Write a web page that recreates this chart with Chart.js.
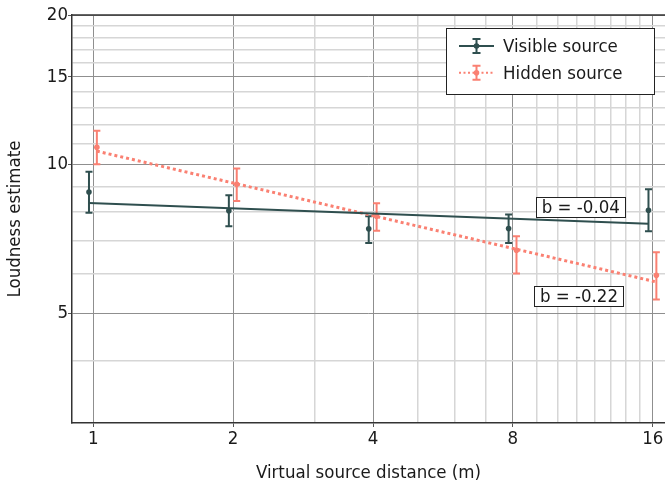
<!DOCTYPE html>
<html><head><meta charset="utf-8">
<script src="https://cdn.jsdelivr.net/npm/chart.js@4/dist/chart.umd.min.js"></script>
<style>html,body{margin:0;padding:0;background:#fff;overflow:hidden}#wrap{width:669px;height:487px;position:relative}</style>
</head><body><div id="wrap"><canvas id="c"></canvas></div>
<script>
// ---- data ----
const distances   = [1, 2, 4, 8, 16];
const visibleMean = [8.78, 8.05, 7.40, 7.41, 8.07];
const visibleLow  = [7.97, 7.49, 6.93, 6.93, 7.32];
const visibleHigh = [9.65, 8.65, 7.85, 7.91, 8.89];
const hiddenMean  = [10.81, 9.10, 7.85, 6.70, 5.96];
const hiddenLow   = [9.99, 8.42, 7.33, 6.01, 5.33];
const hiddenHigh  = [11.68, 9.80, 8.33, 7.15, 6.64];
const fitEnds     = [1, 16];
const visibleFit  = [8.34, 7.58];
const hiddenFit   = [10.62, 5.78];
const slopeLabels = ['b = -0.04', 'b = -0.22'];
const slopeLabelX = [11.2, 11.1];
const slopeLabelY = [8.19, 5.41];
const seriesNames = ['Visible source', 'Hidden source'];
const xTickLabels = [1, 2, 4, 8, 16];
const yTickLabels = [5, 10, 15, 20];
const xGridValues = [1,2,3,4,5,6,7,8,9,10,11,12,13,14,15,16];
const yGridValues = [4,5,6,7,8,9,10,11,12,13,14,15,16,17,18,19,20];

// ---- styling ----
const VIS_DODGE = 0.979, HID_DODGE = 1.018;
const VIS_COLOR = '#2F4F4F', HID_COLOR = '#FA8072';
const FONT = "'DejaVu Sans Condensed', 'DejaVu Sans', sans-serif";
const FSIZE = 18.5;
const TXT = '#1a1a1a';
const MAJOR_GRID = '#8f8f8f', MINOR_GRID = '#d6d6d6';

const pts = (xs, ys, d) => xs.map((x, i) => ({x: x * d, y: ys[i]}));

const datasets = [
  {label: seriesNames[0], type: 'scatter', data: pts(distances, visibleMean, VIS_DODGE),
   errLow: visibleLow, errHigh: visibleHigh, backgroundColor: VIS_COLOR, borderColor: VIS_COLOR,
   pointRadius: 2.8, pointBorderWidth: 0, order: 1},
  {label: seriesNames[1], type: 'scatter', data: pts(distances, hiddenMean, HID_DODGE),
   errLow: hiddenLow, errHigh: hiddenHigh, backgroundColor: HID_COLOR, borderColor: HID_COLOR,
   pointRadius: 2.8, pointBorderWidth: 0, order: 3},
  {label: 'vfit', type: 'line', data: pts(fitEnds, visibleFit, VIS_DODGE), borderColor: VIS_COLOR,
   borderWidth: 2, pointRadius: 0, fill: false, order: 2},
  {label: 'hfit', type: 'line', data: pts(fitEnds, hiddenFit, HID_DODGE), borderColor: HID_COLOR,
   borderWidth: 3, borderDash: [3, 3], borderCapStyle: 'butt', pointRadius: 0, fill: false, order: 4}
];

const errorBarPlugin = {
  id: 'errorBars',
  beforeDatasetsDraw(chart) {
    const ctx = chart.ctx, y = chart.scales.y;
    chart.data.datasets.forEach((ds, di) => {
      if (!ds.errLow) return;
      const meta = chart.getDatasetMeta(di);
      ctx.save();
      ctx.strokeStyle = ds.borderColor; ctx.lineWidth = 2;
      meta.data.forEach((el, i) => {
        const px = el.x, yl = y.getPixelForValue(ds.errLow[i]), yh = y.getPixelForValue(ds.errHigh[i]);
        ctx.beginPath();
        ctx.moveTo(px, yl); ctx.lineTo(px, yh);
        ctx.moveTo(px - 3.5, yl); ctx.lineTo(px + 3.5, yl);
        ctx.moveTo(px - 3.5, yh); ctx.lineTo(px + 3.5, yh);
        ctx.stroke();
      });
      ctx.restore();
    });
  },
  afterDraw(chart) {
    const ctx = chart.ctx, a = chart.chartArea, xs = chart.scales.x, ys = chart.scales.y;
    // top frame line
    ctx.save();
    ctx.strokeStyle = '#333'; ctx.lineWidth = 1.5;
    ctx.beginPath(); ctx.moveTo(a.left, a.top); ctx.lineTo(a.right, a.top); ctx.stroke();
    // slope labels
    ctx.font = FSIZE + 'px ' + FONT;
    ctx.textBaseline = 'middle'; ctx.textAlign = 'center';
    slopeLabels.forEach((t, i) => {
      const cx = xs.getPixelForValue(slopeLabelX[i]), cy = ys.getPixelForValue(slopeLabelY[i]);
      const w = ctx.measureText(t).width + 11, h = 20;
      ctx.fillStyle = '#fff'; ctx.fillRect(cx - w / 2, cy - h / 2, w, h);
      ctx.strokeStyle = '#222'; ctx.lineWidth = 1;
      ctx.strokeRect(Math.round(cx - w / 2) + 0.5, Math.round(cy - h / 2) + 0.5, Math.round(w), h);
      ctx.fillStyle = TXT; ctx.fillText(t, cx, cy + 1);
    });
    // legend
    const bx = 446, by = 28, bw = 208, bh = 66;
    ctx.fillStyle = '#fff'; ctx.fillRect(bx, by, bw, bh);
    ctx.strokeStyle = '#222'; ctx.lineWidth = 1;
    ctx.strokeRect(bx + 0.5, by + 0.5, bw, bh);
    const rows = [{ds: chart.data.datasets[0], dash: [], lw: 2},
                  {ds: chart.data.datasets[1], dash: [2, 2.5], lw: 2}];
    rows.forEach((r, i) => {
      const cy = 46 + i * 26.7, x0 = 459, x1 = 494, cx = (x0 + x1) / 2;
      ctx.strokeStyle = r.ds.borderColor; ctx.lineWidth = r.lw; ctx.setLineDash(r.dash);
      ctx.beginPath(); ctx.moveTo(x0, cy); ctx.lineTo(x1, cy); ctx.stroke();
      ctx.setLineDash([]); ctx.lineWidth = 2;
      ctx.beginPath();
      ctx.moveTo(cx, cy - 7); ctx.lineTo(cx, cy + 7);
      ctx.moveTo(cx - 4, cy - 7); ctx.lineTo(cx + 4, cy - 7);
      ctx.moveTo(cx - 4, cy + 7); ctx.lineTo(cx + 4, cy + 7);
      ctx.stroke();
      ctx.fillStyle = r.ds.borderColor;
      ctx.beginPath(); ctx.arc(cx, cy, 2.8, 0, Math.PI * 2); ctx.fill();
      ctx.fillStyle = TXT; ctx.textAlign = 'left';
      ctx.fillText(r.ds.label, 503, cy + 1);
    });
    ctx.restore();
  }
};

const tickFont = {family: FONT, size: FSIZE};
new Chart(document.getElementById('c'), {
  type: 'scatter',
  data: {datasets},
  plugins: [errorBarPlugin],
  options: {
    responsive: true, maintainAspectRatio: false, animation: false,
    layout: {padding: {top: 15, right: 0, left: 0, bottom: 0}},
    plugins: {legend: {display: false}, tooltip: {enabled: false}},
    scales: {
      x: {
        type: 'logarithmic', min: 0.9, max: 17,
        afterBuildTicks: s => { s.ticks = xGridValues.map(v => ({value: v, major: false})); },
        afterFit: s => { s.height = 64; },
        ticks: {autoSkip: false, maxRotation: 0, padding: 1, font: tickFont, color: TXT,
                callback: v => xTickLabels.includes(v) ? String(v) : ''},
        grid: {color: c => xTickLabels.includes(c.tick && c.tick.value) ? MAJOR_GRID : MINOR_GRID,
               lineWidth: c => xTickLabels.includes(c.tick && c.tick.value) ? 1 : 1.5,
               tickLength: 4,
               tickColor: c => xTickLabels.includes(c.tick && c.tick.value) ? '#555' : 'rgba(0,0,0,0)'},
        border: {color: '#333', width: 1.5},
        title: {display: true, text: 'Virtual source distance (m)', font: {family: FONT, size: FSIZE, lineHeight: 1.2},
                color: TXT, padding: {top: 0, bottom: 3}}
      },
      y: {
        type: 'logarithmic', min: 3, max: 20,
        afterBuildTicks: s => { s.ticks = yGridValues.map(v => ({value: v, major: false})); },
        afterFit: s => { s.width = 72; },
        ticks: {autoSkip: false, padding: 0, font: tickFont, color: TXT,
                callback: v => yTickLabels.includes(v) ? String(v) : ''},
        grid: {color: c => yTickLabels.includes(c.tick && c.tick.value) ? MAJOR_GRID : MINOR_GRID,
               lineWidth: c => yTickLabels.includes(c.tick && c.tick.value) ? 1 : 1.5,
               tickLength: 4,
               tickColor: c => yTickLabels.includes(c.tick && c.tick.value) ? '#555' : 'rgba(0,0,0,0)'},
        border: {color: '#333', width: 1.5},
        title: {display: true, text: 'Loudness estimate', font: {family: FONT, size: FSIZE, lineHeight: 1.2},
                color: TXT, padding: {top: 4, bottom: 0}}
      }
    }
  }
});
</script></body></html>
